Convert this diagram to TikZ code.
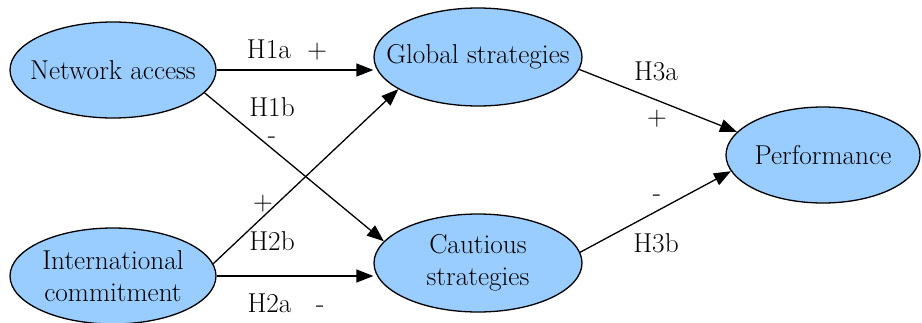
\documentclass[tikz,border=0pt]{standalone}
\usepackage{fontspec}
\usetikzlibrary{shapes.geometric,arrows.meta}
\definecolor{blobfill}{HTML}{99CCFF}
\begin{document}
\begin{tikzpicture}[x=1pt,y=-1pt, font=\fontsize{27.3}{32}\selectfont,
  blob/.style={ellipse, draw, line width=1.3pt, fill=blobfill, inner sep=0pt},
  arr/.style={line width=1.3pt, -{Triangle[length=17pt,width=13pt]}},
  lbl/.style={anchor=base, inner sep=0pt}]
\useasboundingbox (0,0) rectangle (922,322);
\node[blob, minimum width=206pt, minimum height=96pt, label={center:Network access}] (na) at (113,70) {};
\node[blob, minimum width=206pt, minimum height=96pt, label={[align=center]center:International\\commitment}] (ic) at (113,276) {};
\node[blob, minimum width=208pt, minimum height=98pt, label={center:Global strategies}] (gs) at (478,57) {};
\node[blob, minimum width=208pt, minimum height=98pt, label={[align=center]center:Cautious\\strategies}] (cs) at (478,263) {};
\node[blob, minimum width=194pt, minimum height=96pt, label={center:Performance}] (pf) at (823,155) {};

\draw[arr] (na.east) -- (na.east -| gs.west);
\draw[arr] (na.-14) -- (cs.167);
\draw[arr] (ic.7) -- (gs.202);
\draw[arr] (ic.east) -- (ic.east -| cs.west);
\draw[arr] (gs.-7) -- (pf.165);
\draw[arr] (cs.6) -- (pf.190);

\node[lbl] (l1a) at (287,58) {H1a\ \ +};
\node[lbl] (l1b) at (272,116) {H1b};
\node[lbl] (l1bs) at (272,143) {-};
\node[lbl] (l2bs) at (263,210) {+};
\node[lbl] (l2b) at (272,250) {H2b};
\node[lbl] (l2a) at (286,312) {H2a\ \ \ -};
\node[lbl] (l3a) at (656,80) {H3a};
\node[lbl] (l3as) at (657,125) {+};
\node[lbl] (l3bs) at (657,201) {-};
\node[lbl] (l3b) at (656,252) {H3b};
\end{tikzpicture}
\end{document}
